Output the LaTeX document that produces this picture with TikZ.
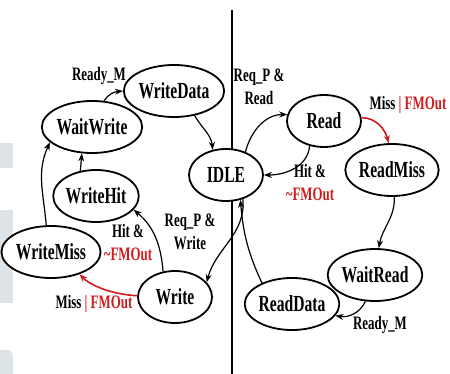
\documentclass[tikz,border=0pt]{standalone}
\usepackage{fontspec}
\setmainfont{Liberation Serif}[FakeStretch=0.68]
\usepackage{tikz}
\usetikzlibrary{arrows.meta, positioning, shapes.geometric, calc}
\definecolor{missred}{HTML}{D01C1C}
\definecolor{markgray}{HTML}{DDE4E9}
\newcommand{\redtxt}[1]{\textcolor{missred}{#1}}

\begin{document}
\begin{tikzpicture}[x=0.5pt, y=0.5pt,
      every node/.style={font=\bfseries},
      state/.style={ellipse, draw, line width=0.9pt, fill=white, inner sep=0pt,
                    minimum width=37pt, minimum height=26pt, font=\fontsize{11.5}{12}\selectfont\bfseries},
      edgelabel/.style={font=\fontsize{9.5}{11.5}\selectfont\bfseries, align=center},
      arr/.style={-{Stealth[length=4pt, width=3pt]}, line width=0.6pt},
      redarr/.style={arr, missred, line width=0.8pt},
    ]
      \useasboundingbox (0,0) rectangle (450,-374);
      % faint marks on the left edge
      \fill[markgray] (0,-143) rectangle (13,-168);
      \fill[markgray] (0,-210) rectangle (13,-303);
      \fill[markgray] (0,-374) -- (0,-350) -- (8,-350) to[out=0,in=90] (13,-358) -- (13,-374) -- cycle;

      % divider
      \coordinate (divtop) at (232,-10);
      \coordinate (divbot) at (232,-374);
      \draw[line width=1.2pt] (divtop) -- (divbot);

      % write side
      \node[state] (wd) at (174,-91)  {WriteData};
      \node[state] (ww) at (92,-127)  {WaitWrite};
      \node[state] (wh) at (96,-196)  {WriteHit};
      \node[state] (wm) at (51,-252)  {WriteMiss};
      \node[state] (wr) at (175,-297) {Write};
      \node[state] (idle) at (226,-175) {IDLE};

      % read side
      \node[state] (rd) at (324,-121)  {Read};
      \node[state] (rm) at (392,-170)  {ReadMiss};
      \node[state] (wtr) at (375,-275) {WaitRead};
      \node[state] (rdd) at (292,-304) {ReadData};

      \draw[arr] (ww.65) to[out=60,in=185] (wd.west);
      \draw[arr] (wd.-50) to[out=-60,in=95] (idle.118);
      \draw[arr] (idle.-55) to[out=-85,in=75] (wr.25);
      \draw[arr] (wr.115) to[out=95,in=-40] (wh.-20);
      \draw[redarr] (wr.178) to[out=178,in=-45, looseness=0.8] (wm.-38);
      \draw[arr] (wh.122) -- (ww.249);
      \draw[arr] (wm.100) to[out=95,in=-115] (ww.200);

      \draw[arr] (idle.50) to[out=75,in=180] (rd.170);
      \draw[arr] (rd.-120) to[out=-95,in=0] (idle.east);
      \draw[redarr] (rd.5) to[out=0,in=105] (rm.97);
      \draw[arr] (rm.-85) to[out=-88,in=80] (wtr.82);
      \draw[arr] (wtr.-110) to[out=-115,in=-10] (rdd.-15);
      \draw[arr] (rdd.145) to[out=115,in=-85] (idle.-60);

      % labels
      \node[edgelabel] (l1) at (99,-76)  {Ready\_M};
      \node[edgelabel] (l2) at (190,-232) {Req\_P \&\\Write};
      \node[edgelabel] (l3) at (128,-243) {Hit \&\\\redtxt{\textasciitilde FMOut}};
      \node[edgelabel] (l4) at (94,-304) {Miss \redtxt{| FMOut}};
      \node[edgelabel] (l5) at (259,-87) {Req\_P \&\\Read};
      \node[edgelabel] (l6) at (310,-183) {Hit \&\\\redtxt{\textasciitilde FMOut}};
      \node[edgelabel] (l7) at (408,-105) {Miss \redtxt{| FMOut}};
      \node[edgelabel] (l8) at (380,-325) {Ready\_M};
    \end{tikzpicture}
\end{document}
